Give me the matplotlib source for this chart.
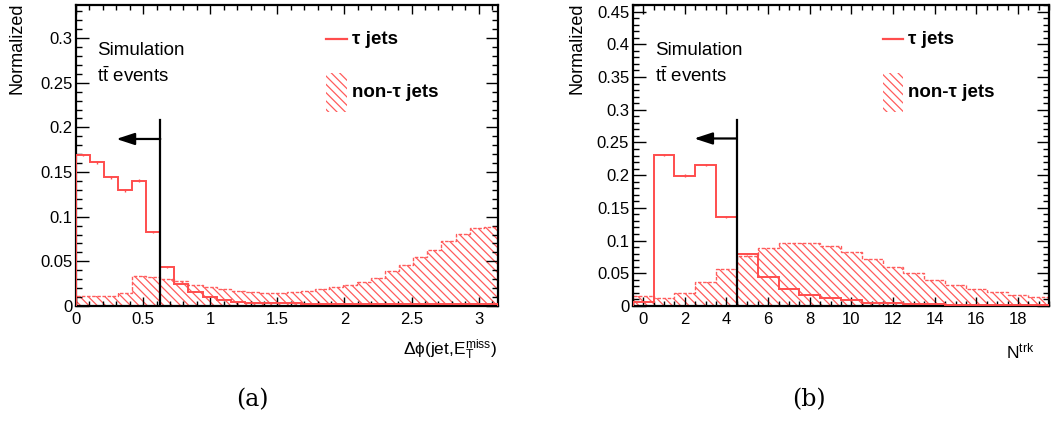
import numpy as np
import matplotlib
matplotlib.use("Agg")
import matplotlib.pyplot as plt
from matplotlib.patches import Rectangle
from matplotlib.ticker import MultipleLocator

plt.rcParams['font.family'] = ['Liberation Sans', 'DejaVu Sans']
plt.rcParams['mathtext.fontset'] = 'custom'
plt.rcParams['mathtext.rm'] = 'Liberation Sans'
plt.rcParams['mathtext.it'] = 'Liberation Sans:italic'
plt.rcParams['mathtext.bf'] = 'Liberation Sans:bold'
plt.rcParams['hatch.linewidth'] = 0.9

# ---------------- data ----------------
# panel (a): delta phi(jet, MET), 30 bins in [0, pi]
dphi_nbins = 30
tau_a = [0.169, 0.161, 0.144, 0.1295, 0.1405, 0.083, 0.0437, 0.025, 0.016, 0.0104,
         0.0067, 0.0040, 0.0037, 0.0034, 0.0031, 0.0029, 0.0027, 0.0026, 0.0025, 0.0024,
         0.0023, 0.0023, 0.0022, 0.0022, 0.0022, 0.0021, 0.0021, 0.0021, 0.0021, 0.0021]
tau_a_err = [0.0015, 0.0015, 0.0015, 0.0015, 0.0015, 0.0012, 0.0009, 0.0007, 0.0006, 0.0005,
             0.0004, 0.0003, 0.0003, 0.0003, 0.0003, 0.0003, 0.0003, 0.0003, 0.0003, 0.0003,
             0.0003, 0.0003, 0.0003, 0.0003, 0.0003, 0.0003, 0.0003, 0.0003, 0.0003, 0.0003]
nontau_a = [0.0116, 0.0116, 0.0116, 0.0142, 0.034, 0.0325, 0.030, 0.0285, 0.0235, 0.0216,
            0.019, 0.0168, 0.0157, 0.015, 0.0149, 0.0153, 0.0168, 0.019, 0.021, 0.0235,
            0.0272, 0.0317, 0.0388, 0.0456, 0.0545, 0.0627, 0.0725, 0.0803, 0.087, 0.0888]
cut_a = 0.628
cut_a_top = 0.208
arrow_a_y = 0.187
arrow_a_end = 0.30

# panel (b): N trk, integer bins 0..19
ntrk_centers = list(range(20))
tau_b = [0.0065, 0.231, 0.1994, 0.2157, 0.1357, 0.0788, 0.0447, 0.0264, 0.0175, 0.012,
         0.0085, 0.005, 0.0045, 0.0035, 0.003, 0.002, 0.0015, 0.001, 0.001, 0.001]
tau_b_err = [0.0005, 0.0018, 0.0017, 0.0018, 0.0014, 0.0011, 0.0008, 0.0006, 0.0005, 0.0004,
             0.0003, 0.0003, 0.0002, 0.0002, 0.0002, 0.0002, 0.0002, 0.0001, 0.0001, 0.0001]
nontau_b = [0.0151, 0.0116, 0.0197, 0.036, 0.057, 0.077, 0.089, 0.0956, 0.0956, 0.0915,
            0.0823, 0.0711, 0.060, 0.0498, 0.0396, 0.0325, 0.0264, 0.0212, 0.0166, 0.0136]
cut_b = 4.5
cut_b_top = 0.285
arrow_b_y = 0.256
arrow_b_end = 2.45

LINE_C = '#ff4d4d'
HATCH_C = '#ff5c5c'

fig = plt.figure(figsize=(10.59, 4.21), dpi=100)
axA = fig.add_axes([76/1059, 1-306/421, 421.7/1059, 301/421])
axB = fig.add_axes([632.7/1059, 1-306/421, 416.6/1059, 301/421])


def draw_panel(ax, edges, tau, tau_err, nontau, xlim, ylim, cut, cut_top, arr_y, arr_end):
    edges = np.asarray(edges)
    centers = 0.5*(edges[:-1]+edges[1:])
    # non-tau hatched
    ax.stairs(nontau, edges, fill=True, facecolor='none', edgecolor=HATCH_C,
              hatch='\\\\\\\\', linewidth=0, zorder=1)
    ax.stairs(nontau, edges, fill=False, color=HATCH_C, linewidth=1.0,
              linestyle=(0, (2.5, 1.2)), zorder=2)
    # tau jets
    ax.stairs(tau, edges, fill=False, color=LINE_C, linewidth=1.4, zorder=3)
    ax.errorbar(centers, tau, yerr=tau_err, fmt='none', ecolor=LINE_C, elinewidth=1.0,
                capsize=0, zorder=3)
    # cut line and arrow
    ax.plot([cut, cut], [0, cut_top], color='black', lw=1.6, zorder=5)
    ax.annotate('', xy=(arr_end, arr_y), xytext=(cut, arr_y),
                arrowprops=dict(arrowstyle='-|>,head_length=1.1,head_width=0.36',
                                mutation_scale=10, lw=1.6, color='black',
                                shrinkA=0, shrinkB=0), zorder=5)
    ax.set_xlim(*xlim)
    ax.set_ylim(*ylim)
    for s in ax.spines.values():
        s.set_linewidth(1.6)
    ax.tick_params(which='both', direction='in', top=True, right=True, width=1.0,
                   labelsize=12)
    ax.tick_params(axis='x', which='major', length=6.5, pad=4)
    ax.tick_params(axis='x', which='minor', length=3.3)
    ax.tick_params(axis='y', which='major', length=9, pad=2.5)
    ax.tick_params(axis='y', which='minor', length=4.5)
    ax.yaxis.set_major_locator(MultipleLocator(0.05))
    ax.yaxis.set_minor_locator(MultipleLocator(0.01))
    ax.yaxis.set_major_formatter(matplotlib.ticker.FuncFormatter(
        lambda v, p: ('%g' % round(v, 3))))


edges_a = np.linspace(0, np.pi, dphi_nbins+1)
draw_panel(axA, edges_a, tau_a, tau_a_err, nontau_a, (0, np.pi), (0, 0.337),
           cut_a, cut_a_top, arrow_a_y, arrow_a_end)
axA.xaxis.set_major_locator(MultipleLocator(0.5))
axA.xaxis.set_minor_locator(MultipleLocator(0.1))
axA.xaxis.set_major_formatter(matplotlib.ticker.FuncFormatter(lambda v, p: '%g' % round(v, 2)))

edges_b = np.concatenate([np.asarray(ntrk_centers) - 0.5, [ntrk_centers[-1] + 0.5]])
draw_panel(axB, edges_b, tau_b, tau_b_err, nontau_b, (-0.5, 19.5), (0, 0.46),
           cut_b, cut_b_top, arrow_b_y, arrow_b_end)
axB.xaxis.set_major_locator(MultipleLocator(2))
axB.xaxis.set_minor_locator(MultipleLocator(0.5))


def decorate(ax, x_sim, x_leg0, x_leg1, x_legtxt):
    ax.text(x_sim, 0.834, 'Simulation', transform=ax.transAxes, fontsize=13.5,
            va='baseline', ha='left')
    ax.text(x_sim, 0.743, r'$\mathregular{t\bar{t}}$ events', transform=ax.transAxes,
            fontsize=13.5, va='baseline', ha='left')
    ax.plot([x_leg0, x_leg1], [0.887, 0.887], color=LINE_C, lw=1.6,
            transform=ax.transAxes, clip_on=False)
    ax.text(x_legtxt, 0.870, 'τ jets', transform=ax.transAxes, fontsize=13.5,
            fontweight='bold', va='baseline', ha='left')
    ax.add_patch(Rectangle((x_leg0, 0.6455), x_leg1-x_leg0, 0.774-0.6455,
                           transform=ax.transAxes, facecolor='none', edgecolor=HATCH_C,
                           hatch='\\\\\\\\', linewidth=0))
    ax.text(x_legtxt, 0.693, 'non-τ jets', transform=ax.transAxes, fontsize=13.5,
            fontweight='bold', va='baseline', ha='left')


decorate(axA, 0.05, 0.592, 0.642, 0.654)
decorate(axB, 0.0535, 0.600, 0.6495, 0.6616)

fig.text(16.7/1059, 1-3/421, 'Normalized', rotation=90, ha='center', va='top', fontsize=13)
fig.text(576.7/1059, 1-3/421, 'Normalized', rotation=90, ha='center', va='top', fontsize=13)

fig.text(497/1059, 1-355/421, r'Δϕ(jet,E$_\mathregular{T}^\mathregular{miss}$)',
         ha='right', va='baseline', fontsize=12.5)
fig.text(1034/1059, 1-358/421, r'N$^\mathregular{trk}$', ha='right', va='baseline',
         fontsize=12.5)

fig.text(252.5/1059, 1-400/421, '(a)', ha='center', va='center', fontsize=17,
         family='DejaVu Serif')
fig.text(809/1059, 1-400/421, '(b)', ha='center', va='center', fontsize=17,
         family='DejaVu Serif')

fig.savefig('out.png', dpi=100)
